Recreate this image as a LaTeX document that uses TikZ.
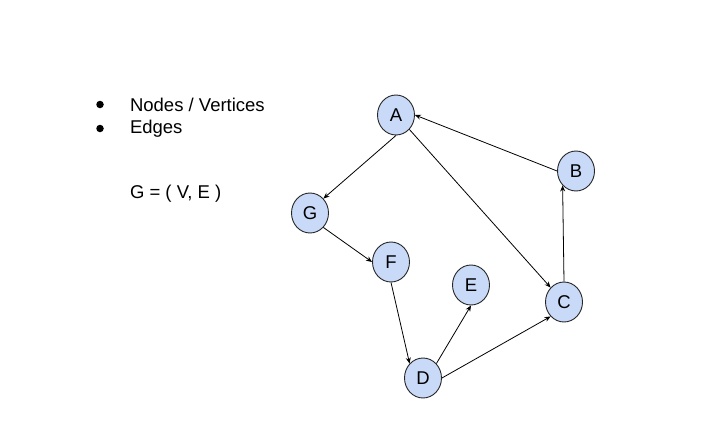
\documentclass[tikz,border=0pt]{standalone}
\usepackage{fontspec}
\setmainfont{Liberation Sans}
\usetikzlibrary{shapes.geometric,arrows.meta}
\definecolor{nodeblue}{HTML}{C9DAF8}
\begin{document}
\begin{tikzpicture}[x=1pt, y=-1pt, every node/.style={font=\fontsize{18.5}{22}\selectfont},
  vertex/.style={draw=black!85, ellipse, fill=nodeblue, line width=0.9pt,
    minimum width=37pt, minimum height=40pt, inner sep=0pt},
  edge/.style={line width=0.8pt, -{Stealth[length=6pt,width=5pt]}},
  bullet/.style={circle, fill=black, inner sep=0pt, minimum size=7.5pt}]
\useasboundingbox (0,0) rectangle (714,436);
% text on the left
\node[bullet] (b1) at (100,104.5) {};
\node[bullet] (b2) at (100,128.5) {};
\node[anchor=west] (t1) at (126.5,104.5) {Nodes / Vertices};
\node[anchor=west] (t2) at (126.5,128.5) {Edges};
\node[anchor=west] (g) at (126.5,193.5) {G = ( V, E )};
% vertices
\foreach \n/\x/\y in {A/396/115,B/576/171,G/310/213,F/391/262,E/471/285,C/564/302,D/423/378}
  \node[vertex] (\n) at (\x,\y) {\n};
% directed edges, between connection points
\foreach \a/\b in {A.south/G.north east, A.south east/C.north west, B.west/A.east,
    C.north/B.south west, G.south east/F.west, F.south/D.north west,
    D.north east/E.south, D.east/C.south west}
  \draw[edge] (\a) -- (\b);
\end{tikzpicture}
\end{document}
